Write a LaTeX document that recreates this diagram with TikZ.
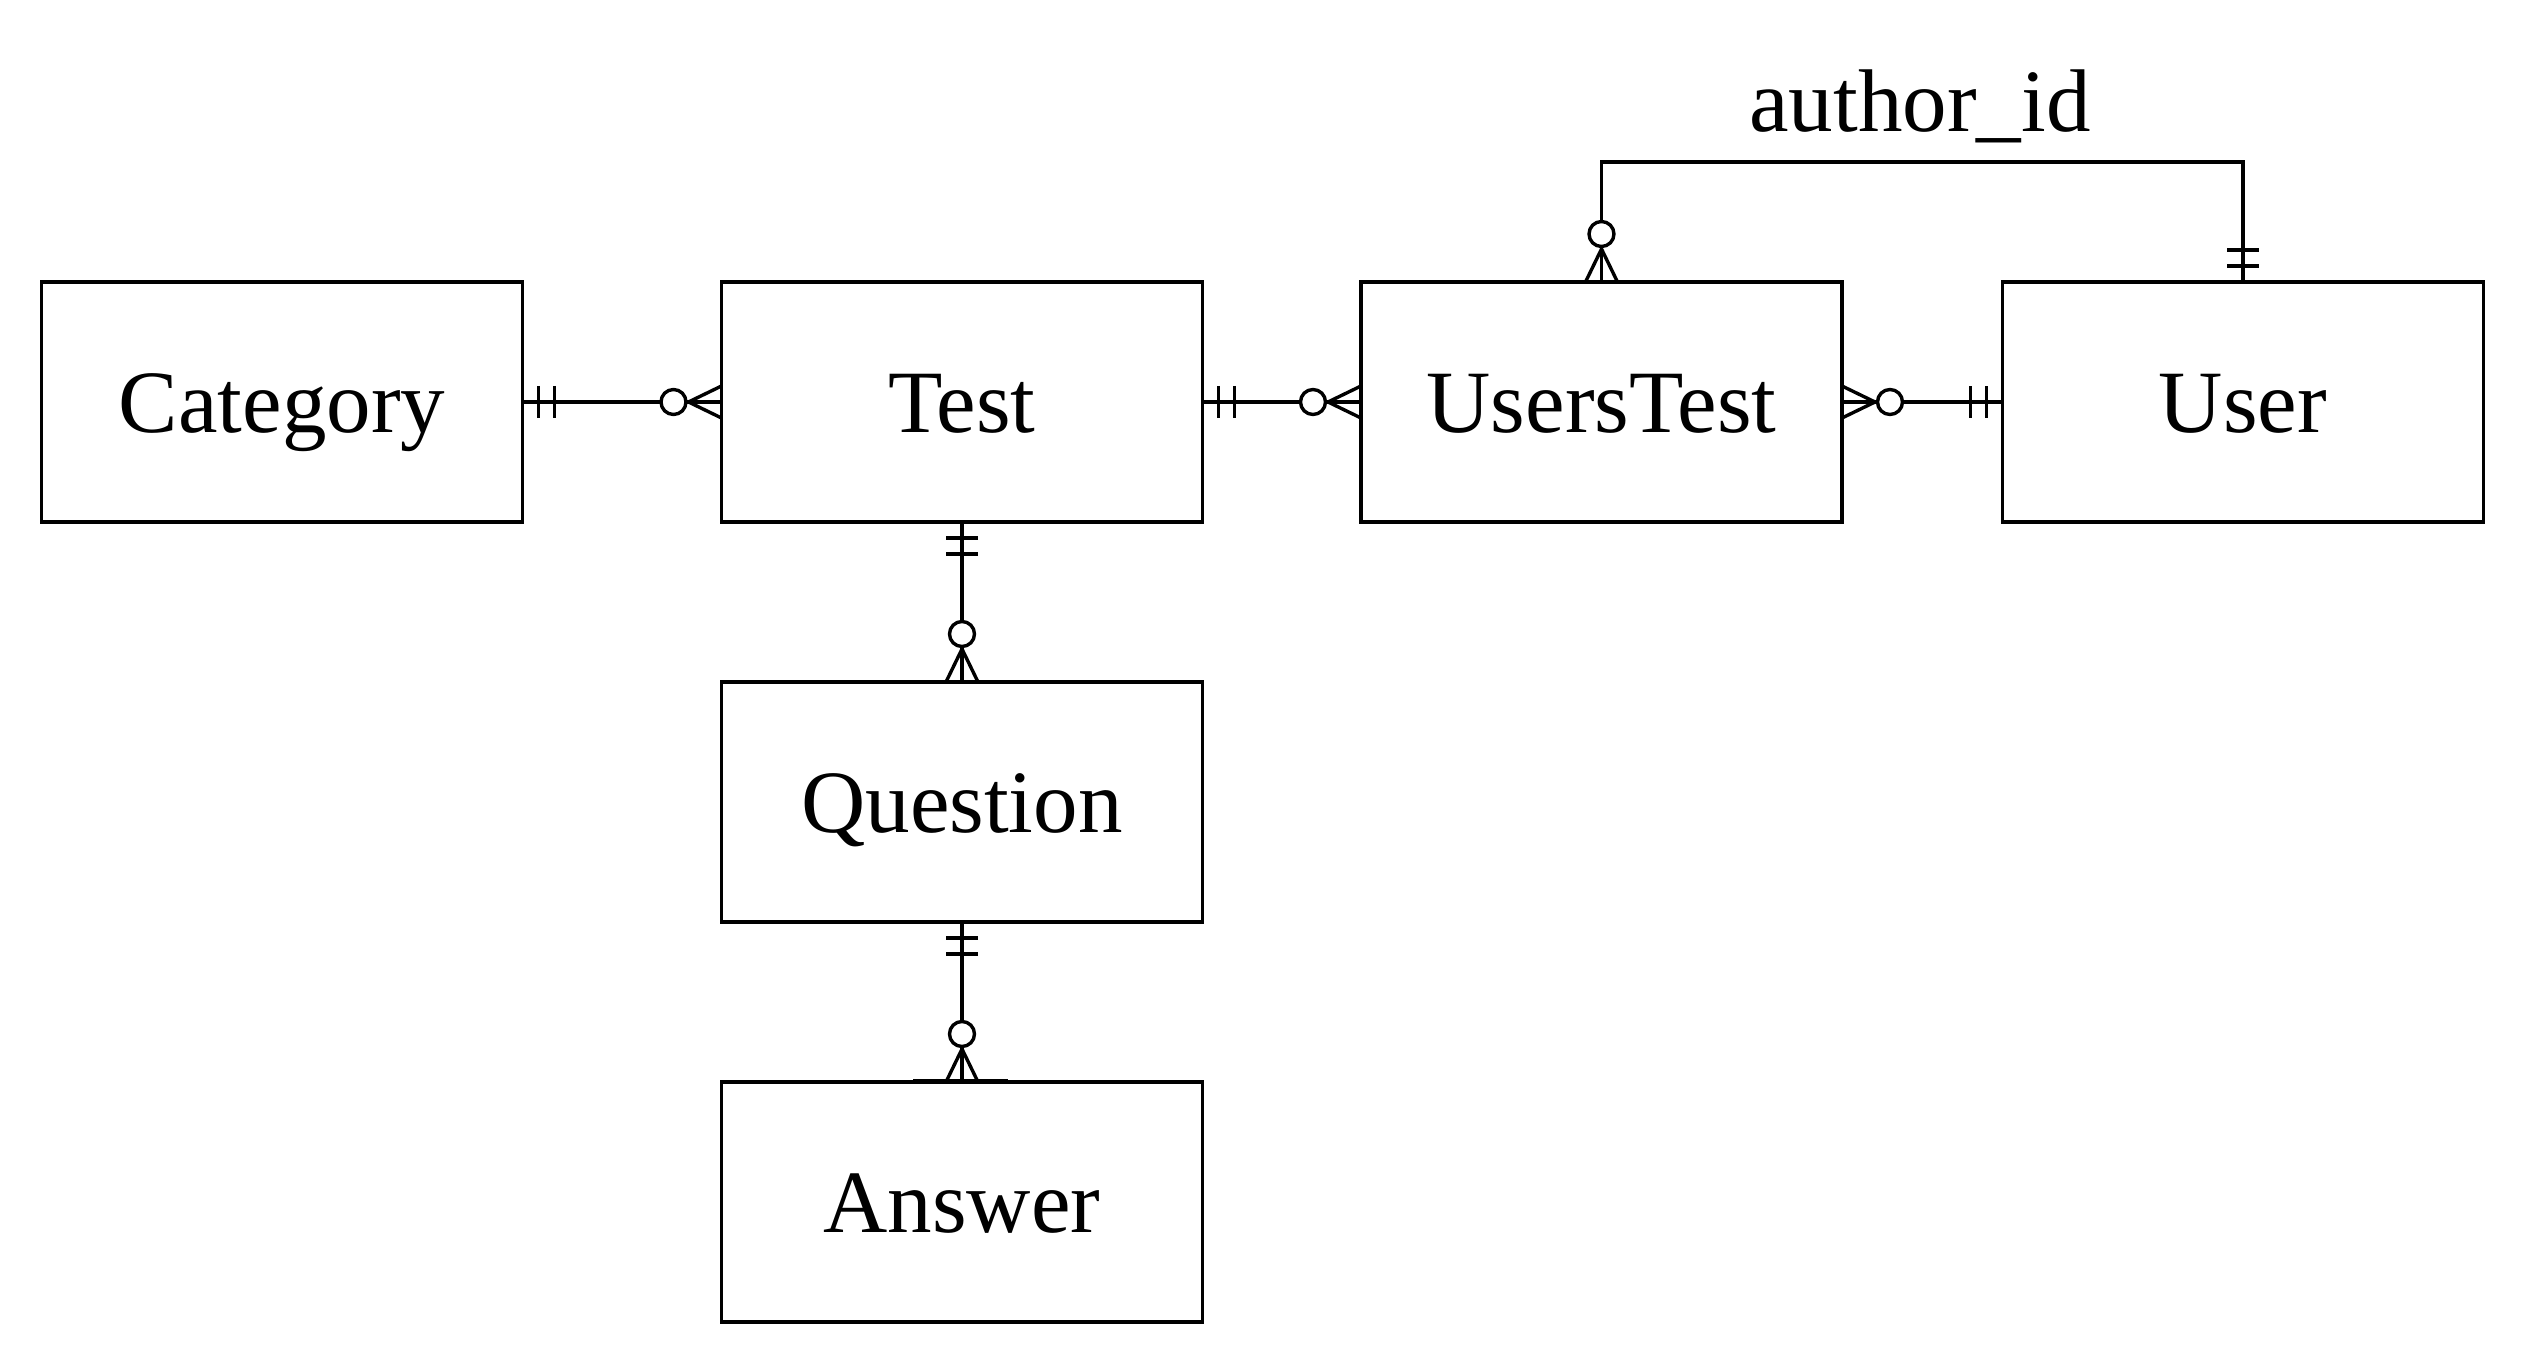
\documentclass[tikz,border=0pt]{standalone}
\usepackage{fontspec}
\setmainfont{Liberation Serif}
\usetikzlibrary{calc}
\tikzset{
  entity/.style={draw, line width=1.85pt, minimum width=240.5pt, minimum height=120pt,
    inner sep=0pt, outer sep=0pt, font=\fontsize{44.5}{52}\selectfont, text height=30pt, text depth=0pt},
  conn/.style={line width=1.7pt},
  lbl/.style={font=\fontsize{44.5}{52}\selectfont, inner sep=0pt, anchor=base},
}
\newcommand\onemand[2]{\begin{scope}[shift={(#1)},rotate=#2]
  \draw[conn] (16,-16) -- (16,16) (32,-16) -- (32,16);\end{scope}}
\newcommand\zeromany[2]{\begin{scope}[shift={(#1)},rotate=#2]
  \draw[conn] (0,-16) -- (33,0) -- (0,16);
  \draw[conn,fill=white] (48,0) circle[radius=6.25pt];\end{scope}}
\begin{document}
\begin{tikzpicture}[x=0.5pt,y=-0.5pt]
\useasboundingbox (0,0) rectangle (2524,1364);
\node[entity] (cat) at (282,402) {Category};
\node[entity] (test) at (962,402) {Test};
\node[entity] (ut) at (1601.5,402) {UsersTest};
\node[entity] (user) at (2243,402) {User};
\node[entity] (q) at (962,802) {Question};
\node[entity] (ans) at (962,1202) {Answer};
\node[lbl] (aid) at (1920,132) {author\_id};
\coordinate (top) at (1920,162);
\draw[conn] (cat.east) -- (test.west);
\draw[conn] (test.east) -- (ut.west);
\draw[conn] (user.west) -- (ut.east);
\draw[conn] (test.south) -- (q.north);
\draw[conn] (q.south) -- (ans.north);
\draw[conn] (user.north) |- (top) -| (ut.north);
\draw[conn] ($(ans.north)+(-49,-1)$) -- ($(ans.north)+(46,-1)$);
\onemand{cat.east}{0}
\zeromany{test.west}{180}
\onemand{test.east}{0}
\zeromany{ut.west}{180}
\onemand{user.west}{180}
\zeromany{ut.east}{0}
\onemand{test.south}{-90}
\zeromany{q.north}{90}
\onemand{q.south}{-90}
\zeromany{ans.north}{90}
\onemand{user.north}{90}
\zeromany{ut.north}{90}
\end{tikzpicture}
\end{document}
